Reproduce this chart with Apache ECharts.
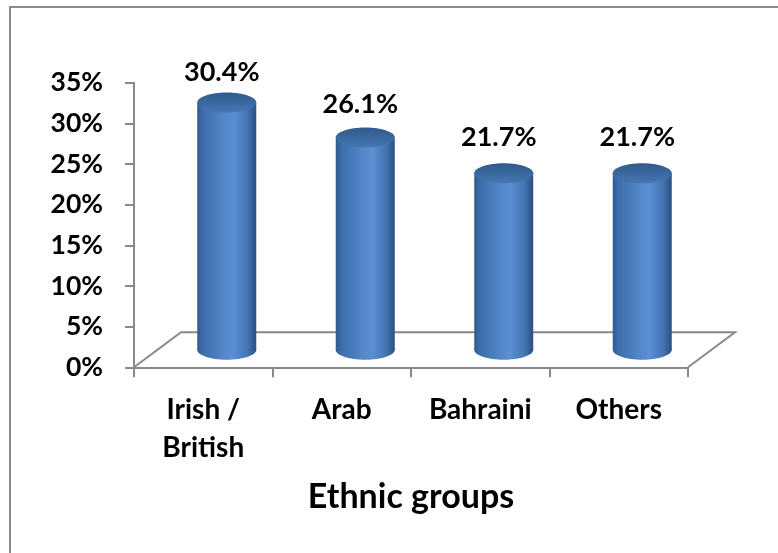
<!DOCTYPE html>
<html>
<head>
<meta charset="utf-8">
<script src="https://cdn.jsdelivr.net/npm/echarts@6/dist/echarts.min.js"></script>
<style>
  html, body { margin: 0; padding: 0; background: #fff; }
  #chart { width: 778px; height: 553px; }
</style>
</head>
<body>
<div id="chart"></div>
<script>
// Share of respondents by ethnic group
var categories = ['Irish /\nBritish', 'Arab', 'Bahraini', 'Others'];
var shares = [30.4, 26.1, 21.7, 21.7];
var axisMax = 35;
var axisStep = 5;
var axisTitle = 'Ethnic groups';

var FONT = 'Lato, "Open Sans", sans-serif';
var GRAY = '#898989';

// depth of the floor (offset of the back edge from the front edge)
var DEPTH_X = 47, DEPTH_Y = -35;
// value labels follow a slightly flattened (perspective) scale
var LABEL_SCALE = 0.92, LABEL_LIFT = 50;

var chart = echarts.init(document.getElementById('chart'));

function bodyGradient() {
  return new echarts.graphic.LinearGradient(0, 0, 1, 0, [
    { offset: 0, color: '#2F5B91' },
    { offset: 0.1, color: '#3D6DAB' },
    { offset: 0.45, color: '#5487C9' },
    { offset: 0.62, color: '#5B8FD3' },
    { offset: 0.86, color: '#4373B1' },
    { offset: 1, color: '#2B4F80' }
  ]);
}

function topGradient() {
  return new echarts.graphic.LinearGradient(0, 0, 0, 1, [
    { offset: 0, color: '#2F5A8C' },
    { offset: 1, color: '#4676B4' }
  ]);
}

// floor outline behind the front axis line
function renderFloor(params, api) {
  var cs = params.coordSys;
  var x0 = cs.x, x1 = cs.x + cs.width, y0 = cs.y + cs.height;
  return {
    type: 'polyline',
    silent: true,
    shape: {
      points: [
        [x0, y0],
        [x0 + DEPTH_X, y0 + DEPTH_Y],
        [x1 + DEPTH_X, y0 + DEPTH_Y],
        [x1, y0]
      ]
    },
    style: { stroke: GRAY, lineWidth: 2, fill: null }
  };
}

// cylinder standing in the middle of the floor depth
function renderCylinder(params, api) {
  var idx = api.value(0);
  var val = api.value(1);
  var base = api.coord([idx, 0]);
  var top = api.coord([idx, val]);
  var band = api.size([1, 0])[0];
  var rx = band * 0.213;
  var ry = 10;
  var cx = base[0] + DEPTH_X / 2;
  var baseY = base[1] + DEPTH_Y / 2;
  var topY = top[1] + DEPTH_Y / 2;
  var labelY = baseY - LABEL_SCALE * (baseY - topY) - LABEL_LIFT;
  return {
    type: 'group',
    children: [
      {
        type: 'ellipse',
        shape: { cx: cx, cy: baseY, rx: rx, ry: ry },
        style: { fill: bodyGradient() }
      },
      {
        type: 'rect',
        shape: { x: cx - rx, y: topY, width: rx * 2, height: baseY - topY },
        style: { fill: bodyGradient() }
      },
      {
        type: 'ellipse',
        shape: { cx: cx, cy: topY, rx: rx, ry: ry },
        style: { fill: topGradient() }
      },
      {
        type: 'text',
        x: cx - 5,
        y: labelY,
        style: {
          text: val.toFixed(1) + '%',
          fill: '#000',
          font: 'bold 27px ' + FONT,
          align: 'center',
          verticalAlign: 'middle'
        }
      }
    ]
  };
}

var option = {
  backgroundColor: '#fff',
  animation: false,
  graphic: [{
    type: 'rect',
    silent: true,
    shape: { x: 10, y: 7, width: 900, height: 700 },
    style: { stroke: GRAY, lineWidth: 2, fill: null }
  }],
  grid: { left: 134, right: 90, top: 82.7, bottom: 185.7 },
  xAxis: {
    type: 'category',
    data: categories,
    boundaryGap: true,
    axisLine: { show: true, lineStyle: { color: GRAY, width: 2 } },
    axisTick: { show: true, length: 10, lineStyle: { color: GRAY, width: 2 } },
    axisLabel: {
      margin: 24,
      color: '#000',
      fontFamily: FONT,
      fontWeight: 'bold',
      fontSize: 28,
      lineHeight: 38,
      interval: 0
    },
    name: axisTitle,
    nameLocation: 'middle',
    nameGap: 113,
    nameTextStyle: { color: '#000', fontFamily: FONT, fontWeight: 'bold', fontSize: 34 }
  },
  yAxis: {
    type: 'value',
    min: 0,
    max: axisMax,
    interval: axisStep,
    axisLine: { show: true, lineStyle: { color: GRAY, width: 2 } },
    axisTick: { show: true, length: 9, lineStyle: { color: GRAY, width: 2 } },
    splitLine: { show: false },
    axisLabel: {
      margin: 31,
      color: '#000',
      fontFamily: FONT,
      fontWeight: 'bold',
      fontSize: 26.5,
      formatter: '{value}%'
    }
  },
  series: [
    {
      type: 'custom',
      renderItem: renderFloor,
      data: [[0, 0]],
      silent: true,
      z: 1
    },
    {
      type: 'custom',
      renderItem: renderCylinder,
      data: shares.map(function (v, i) { return [i, v]; }),
      z: 3
    }
  ]
};

chart.setOption(option);
</script>
</body>
</html>
